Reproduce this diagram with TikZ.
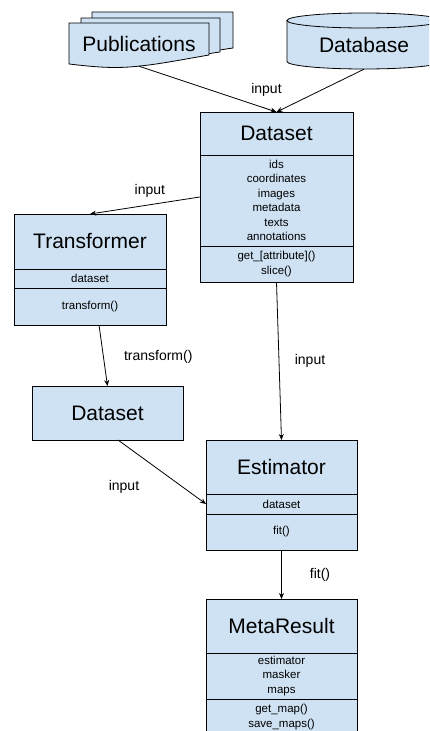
\documentclass[tikz,border=0pt]{standalone}
\usepackage{fontspec}
\setmainfont{Liberation Sans}
\usetikzlibrary{arrows.meta, positioning, fit}
\definecolor{boxblue}{HTML}{CFE2F3}

\begin{document}
\begin{tikzpicture}[
	x=1pt, y=-1pt, % one unit is one pixel of the sketch, y runs down
	>={Stealth[length=6pt, width=5pt]},
	flow/.style={->, line width=0.8pt},
	outline/.style={draw=black, line width=0.8pt, fill=boxblue},
	classname/.style={outline, outer sep=0pt, inner sep=0pt, minimum width=152pt, minimum height=54pt, font=\fontsize{21}{25}\selectfont},
	classmembers/.style={outline, outer sep=0pt, inner sep=0pt, minimum width=152pt, align=center, font=\fontsize{11.5}{14.5}\selectfont},
	lbl/.style={inner sep=0pt, font=\fontsize{14}{17}\selectfont},
	]
	\useasboundingbox (0,0) rectangle (429,731);
	\clip (0,0) rectangle (429,731);

	% inputs: stacked publications and the database cylinder
	\draw[outline] (92,12) -- (233,12) -- (233,48) .. controls (226,49) .. (214,51) -- (92,51) -- cycle;
	\draw[outline] (81,18) -- (220,18) -- (220,52) .. controls (212,53) .. (200,56) -- (81,56) -- cycle;
	\draw[outline] (69,23) -- (209,23) -- (209,55) .. controls (180,60) and (160,64) .. (140,66)
		.. controls (115,69) and (95,67) .. (69,64) -- cycle;
	\node[minimum width=140pt, minimum height=44pt, inner sep=0pt, font=\fontsize{21}{25}\selectfont] (pub) at (139,44) {Publications};

	\draw[outline] (287,20.5) -- (287,61.5) arc (180:360:77pt and 7.5pt) -- (441,20.5) -- cycle;
	\draw[outline] (364,20.5) ellipse (77pt and 7.5pt);
	\node[minimum width=154pt, minimum height=48pt, inner sep=0pt, font=\fontsize{21}{25}\selectfont] (db) at (364,45) {Database};

	% Dataset
	\node[classname, minimum width=153pt, minimum height=43pt] (ds-name) at (276.5,133.5) {Dataset};
	\node[classmembers, minimum width=153pt, minimum height=91pt, below=0pt of ds-name] (ds-attr)
		{ids\\coordinates\\images\\metadata\\texts\\annotations};
	\node[classmembers, minimum width=153pt, minimum height=36pt, below=0pt of ds-attr] (ds-ops)
		{get\_[attribute]()\\slice()};
	\node[fit=(ds-name)(ds-ops), inner sep=0pt] (ds) {};

	% Transformer
	\node[classname, minimum height=55pt] (tr-name) at (90,241.5) {Transformer};
	\node[classmembers, minimum height=19pt, below=0pt of tr-name] (tr-attr) {dataset};
	\node[classmembers, minimum height=37pt, below=0pt of tr-attr] (tr-ops) {transform()};

	% transformed Dataset
	\node[classname, minimum width=151pt] (d2) at (107.5,413) {Dataset};

	% Estimator
	\node[classname, minimum width=151pt] (es-name) at (281.5,467) {Estimator};
	\node[classmembers, minimum width=151pt, minimum height=20pt, below=0pt of es-name] (es-attr) {dataset};
	\node[classmembers, minimum width=151pt, minimum height=36pt, below=0pt of es-attr] (es-ops) {fit()};

	% MetaResult
	\node[classname, minimum width=151pt] (mr-name) at (281.5,626) {MetaResult};
	\node[classmembers, minimum width=151pt, minimum height=46pt, below=0pt of mr-name] (mr-attr)
		{estimator\\masker\\maps};
	\node[classmembers, minimum width=151pt, minimum height=36pt, below=0pt of mr-attr] (mr-ops)
		{get\_map()\\save\_maps()};

	\path
		(pub.south) edge[flow] (ds-name.north)
		(db.south) edge[flow] node[lbl, at end, xshift=-10pt, yshift=22pt] {input} (ds-name.north)
		(ds.west) edge[flow] node[lbl, xshift=5pt, yshift=14.5pt] {input} (tr-name.north)
		([xshift=9pt]tr-ops.south) edge[flow] node[lbl, xshift=55pt, yshift=-1.5pt] {transform()} (d2.north)
		(ds-ops.south) edge[flow] node[lbl, xshift=31pt] {input} (es-name.north)
		([xshift=10.5pt]d2.south) edge[flow] node[lbl, xshift=-38pt, yshift=-15pt] {input} (es-attr.west)
		(es-ops.south) edge[flow] node[lbl, xshift=38.5pt] {fit()} (mr-name.north)
	;
\end{tikzpicture}
\end{document}
